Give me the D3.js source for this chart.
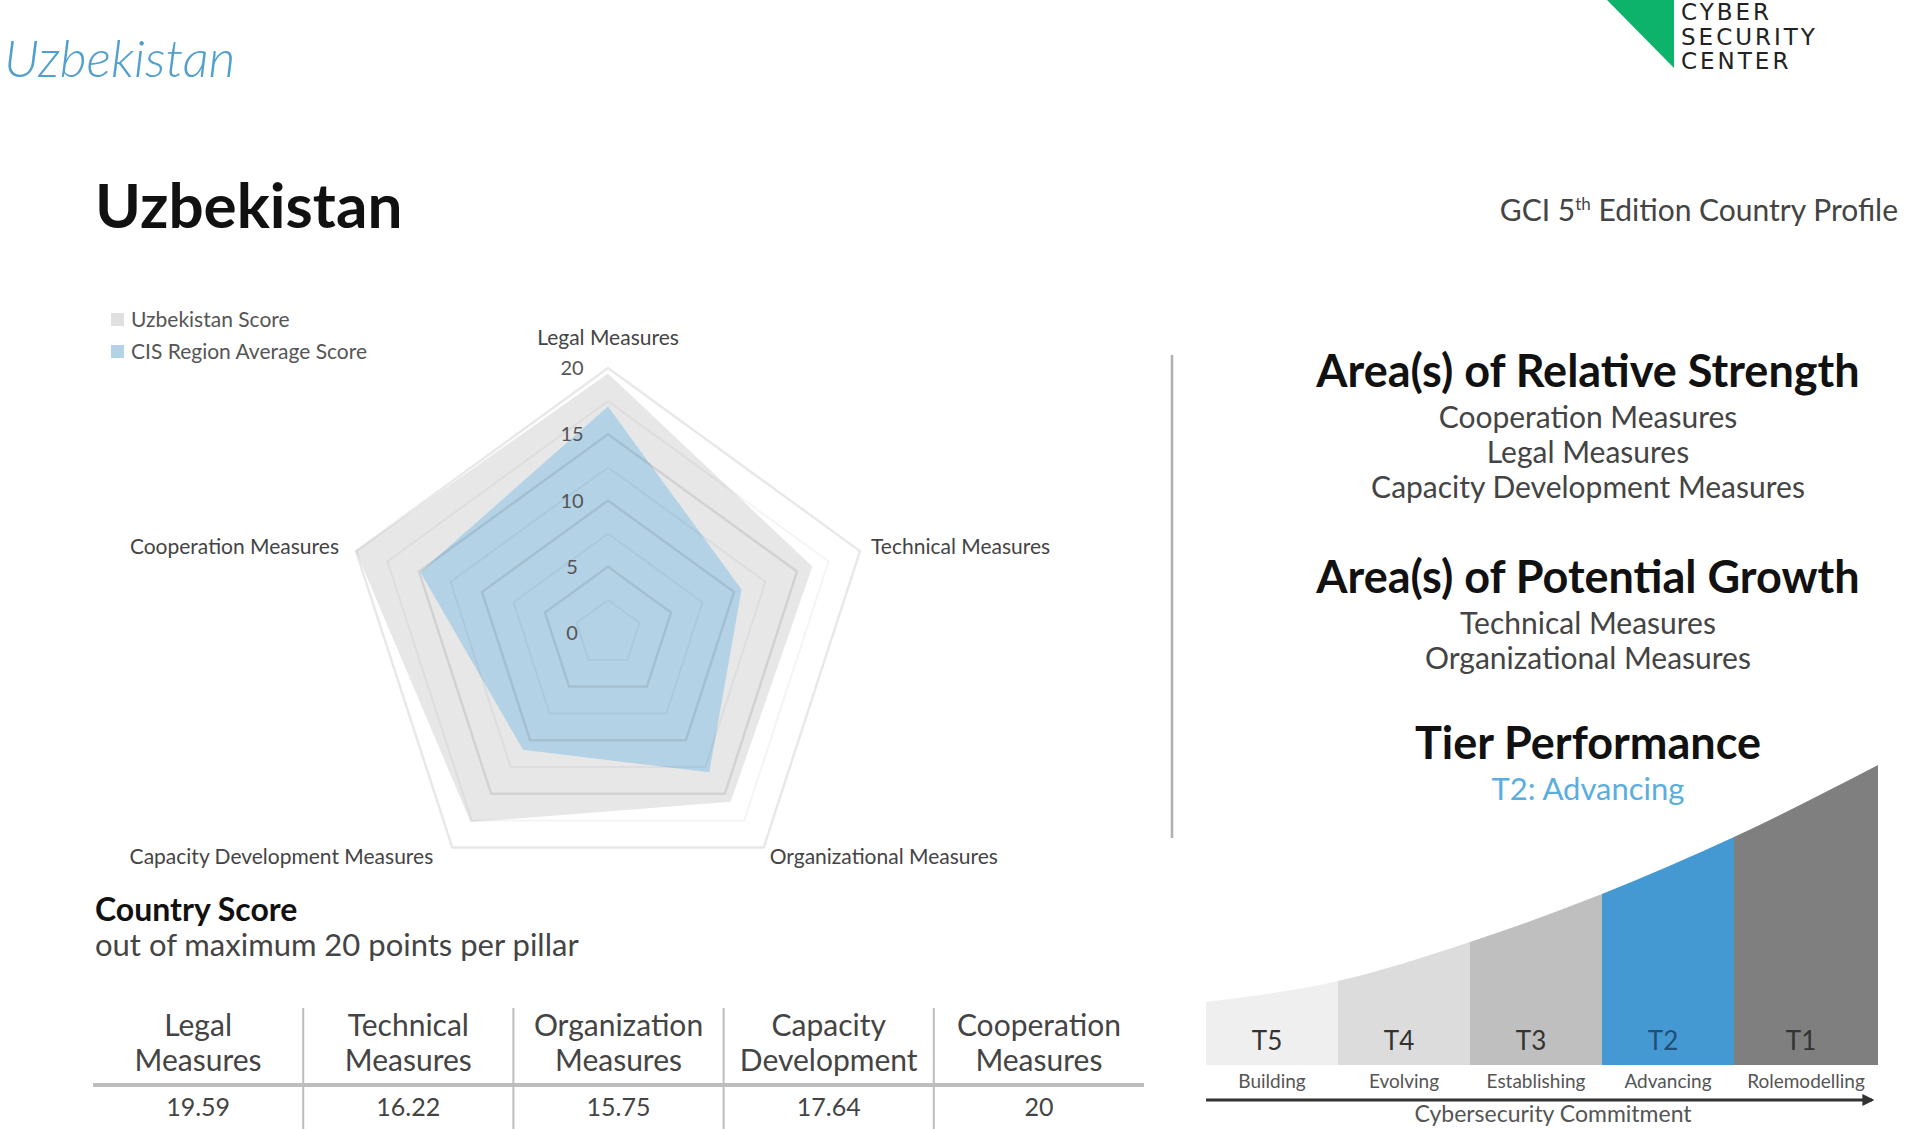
<!DOCTYPE html>
<html>
<head>
<meta charset="utf-8">
<script src="https://cdn.jsdelivr.net/npm/d3@7"></script>
<style>
  body { margin: 0; background: #fff; }
  svg { display: block; font-family: Lato, "Open Sans", sans-serif; }
</style>
</head>
<body>
<svg id="chart" width="1920" height="1129"></svg>
<script>
// pillars of the radar, clockwise from top
const pillars = ['Legal Measures', 'Technical Measures', 'Organizational Measures',
    'Capacity Development Measures', 'Cooperation Measures']
const countryScores = [19.59, 16.22, 15.75, 17.64, 20]
const regionScores = [17.1, 10.6, 13.0, 10.9, 14.9]
const scoreTicks = [0, 5, 10, 15, 20]
const ringLevels = [2.5, 5, 7.5, 10, 12.5, 15, 17.5, 20]

const tableHeads = [['Legal', 'Measures'], ['Technical', 'Measures'], ['Organization', 'Measures'],
    ['Capacity', 'Development'], ['Cooperation', 'Measures']]

const strengths = ['Cooperation Measures', 'Legal Measures', 'Capacity Development Measures']
const growthAreas = ['Technical Measures', 'Organizational Measures']

const tiers = ['T5', 'T4', 'T3', 'T2', 'T1']
const tierNames = ['Building', 'Evolving', 'Establishing', 'Advancing', 'Rolemodelling']
const tierColors = ['#efefef', '#dcdcdc', '#bfbfbf', '#4499d3', '#7f7f7f']
// relative height of the commitment curve at each column edge
const tierCurve = [21, 28, 41, 57, 76, 100]
const currentTier = 'T2'

const svg = d3.select('#chart')

// ---- header ----
svg.append('text').attr('x', 4).attr('y', 77)
    .style('font-size', '52px').style('font-style', 'italic').style('font-weight', 300)
    .attr('fill', '#4f9fcf').text('Uzbekistan')

svg.append('text').attr('x', 95).attr('y', 228)
    .style('font-size', '62px').style('font-weight', 700)
    .attr('fill', '#111').text('Uzbekistan')

const gci = svg.append('text').attr('x', 1898).attr('y', 221).attr('text-anchor', 'end')
    .style('font-size', '30px').attr('fill', '#444')
gci.append('tspan').text('GCI 5')
gci.append('tspan').attr('dy', -11).style('font-size', '17px').text('th')
gci.append('tspan').attr('dy', 11).text(' Edition Country Profile')

// logo
svg.append('path').attr('d', 'M1607,0L1674,0L1674,68Z').attr('fill', '#0db36a')
svg.append('g').selectAll('text').data(['CYBER', 'SECURITY', 'CENTER']).join('text')
    .attr('x', 1681).attr('y', (d, i) => 20 + i * 24.5)
    .style('font-family', '"DejaVu Sans", sans-serif').style('font-size', '23px')
    .style('letter-spacing', '3px').attr('fill', '#222').text(d => d)

// ---- radar ----
const cx = 608, cy = 633
const r = d3.scaleLinear().domain([0, 20]).range([0, 265])
const angle = i => i * 2 * Math.PI / pillars.length

const radial = d3.lineRadial()
    .angle((d, i) => angle(i))
    .radius(d => r(d))
    .curve(d3.curveLinearClosed)

const radar = svg.append('g').attr('transform', `translate(${cx},${cy})`)

radar.append('path').attr('d', radial(countryScores)).attr('fill', '#e7e7e7')
radar.append('path').attr('d', radial(regionScores)).attr('fill', '#b4d2e5')

radar.selectAll('.ring').data(ringLevels).join('path')
    .attr('class', 'ring')
    .attr('d', v => radial(pillars.map(() => v)))
    .attr('fill', 'none')
    .attr('stroke', v => v % 5 === 0 ? 'rgba(0,0,0,0.09)' : 'rgba(0,0,0,0.045)')
    .attr('stroke-width', v => v % 5 === 0 ? 2.5 : 2)

radar.selectAll('.tick').data(scoreTicks).join('text')
    .attr('class', 'tick')
    .attr('x', -36).attr('y', v => -r(v)).attr('dy', '0.35em')
    .attr('text-anchor', 'middle').style('font-size', '20px').attr('fill', '#555')
    .text(v => v)

const labelPos = [
    { dx: 0, dy: -30, anchor: 'middle' },
    { dx: 11, dy: -4, anchor: 'start' },
    { dx: 6, dy: 9, anchor: 'start' },
    { dx: -19, dy: 9, anchor: 'end' },
    { dx: -17, dy: -4, anchor: 'end' }
]
radar.selectAll('.axis-label').data(pillars).join('text')
    .attr('class', 'axis-label')
    .attr('x', (d, i) => r(20) * Math.sin(angle(i)) + labelPos[i].dx)
    .attr('y', (d, i) => -r(20) * Math.cos(angle(i)) + labelPos[i].dy)
    .attr('dy', '0.35em').attr('text-anchor', (d, i) => labelPos[i].anchor)
    .style('font-size', '21px').attr('fill', '#444')
    .text(d => d)

// legend
const legend = svg.append('g').attr('transform', 'translate(111,313)')
const legendItems = [['Uzbekistan Score', '#e0e0e0'], ['CIS Region Average Score', '#b4d2e5']]
legend.selectAll('rect').data(legendItems).join('rect')
    .attr('x', 0).attr('y', (d, i) => i * 32).attr('width', 13).attr('height', 13)
    .attr('fill', d => d[1])
legend.selectAll('text').data(legendItems).join('text')
    .attr('x', 20).attr('y', (d, i) => i * 32 + 7).attr('dy', '0.35em')
    .style('font-size', '21px').attr('fill', '#555')
    .text(d => d[0])

// ---- country score table ----
svg.append('text').attr('x', 95).attr('y', 921)
    .style('font-size', '32px').style('font-weight', 700).attr('fill', '#111')
    .text('Country Score')
svg.append('text').attr('x', 95).attr('y', 956)
    .style('font-size', '31px').attr('fill', '#444')
    .text('out of maximum 20 points per pillar')

const col = d3.scaleBand().domain(d3.range(pillars.length)).range([93, 1144])
const fmt = v => Number.isInteger(v) ? String(v) : v.toFixed(2)

svg.append('line').attr('x1', 93).attr('x2', 1144).attr('y1', 1085).attr('y2', 1085)
    .attr('stroke', '#bdbdbd').attr('stroke-width', 4)
svg.selectAll('.col-sep').data(d3.range(1, pillars.length)).join('line')
    .attr('class', 'col-sep')
    .attr('x1', i => col(i)).attr('x2', i => col(i))
    .attr('y1', 1008).attr('y2', 1129)
    .attr('stroke', '#bdbdbd').attr('stroke-width', 2)

const heads = svg.selectAll('.head').data(tableHeads).join('text')
    .attr('class', 'head')
    .attr('text-anchor', 'middle').style('font-size', '30px').attr('fill', '#444')
heads.selectAll('tspan').data((d, i) => d.map(t => ({ t, i }))).join('tspan')
    .attr('x', d => col(d.i) + col.bandwidth() / 2)
    .attr('y', (d, j) => 1036 + j * 35)
    .text(d => d.t)

svg.selectAll('.score').data(countryScores).join('text')
    .attr('class', 'score')
    .attr('x', (d, i) => col(i) + col.bandwidth() / 2).attr('y', 1116)
    .attr('text-anchor', 'middle').style('font-size', '25px').attr('fill', '#444')
    .text(fmt)

// ---- separator ----
svg.append('line').attr('x1', 1172).attr('x2', 1172).attr('y1', 355).attr('y2', 838)
    .attr('stroke', '#b0b0b0').attr('stroke-width', 2.5)

// ---- right panel ----
const px = 1588
function block (title, items, y) {
    svg.append('text').attr('x', px).attr('y', y).attr('text-anchor', 'middle')
        .style('font-size', '45px').style('font-weight', 700).attr('fill', '#111')
        .text(title)
    svg.selectAll(null).data(items).join('text')
        .attr('x', px).attr('y', (d, i) => y + 41 + i * 35).attr('text-anchor', 'middle')
        .style('font-size', '30px').attr('fill', '#444')
        .text(d => d)
}
block('Area(s) of Relative Strength', strengths, 387)
block('Area(s) of Potential Growth', growthAreas, 593)

svg.append('text').attr('x', px).attr('y', 759).attr('text-anchor', 'middle')
    .style('font-size', '45px').style('font-weight', 700).attr('fill', '#111')
    .text('Tier Performance')
svg.append('text').attr('x', px).attr('y', 800).attr('text-anchor', 'middle')
    .style('font-size', '31px').attr('fill', '#5aaede')
    .text(currentTier + ': ' + tierNames[tiers.indexOf(currentTier)])

// tier staircase
const tx = d3.scaleBand().domain(tiers).range([1206, 1866])
const tEnd = 1878
const ty = d3.scaleLinear().domain([0, 100]).range([1065, 765])
const edges = tierCurve.map((v, i) => [i < tiers.length ? tx(tiers[i]) : tEnd, v])
const tierArea = d3.area().x(d => d[0]).y0(ty(0)).y1(d => ty(d[1])).curve(d3.curveMonotoneX)
const colW = t => t === tiers[tiers.length - 1] ? tEnd - tx(t) : tx.bandwidth()

const defs = svg.append('defs')
tiers.forEach(t => {
    defs.append('clipPath').attr('id', 'clip-' + t)
        .append('rect').attr('x', tx(t)).attr('y', 700)
        .attr('width', colW(t)).attr('height', 400)
})
svg.selectAll('.tier').data(tiers).join('path')
    .attr('class', 'tier')
    .attr('d', tierArea(edges))
    .attr('clip-path', t => `url(#clip-${t})`)
    .attr('fill', (t, i) => tierColors[i])

svg.selectAll('.tier-label').data(tiers).join('text')
    .attr('class', 'tier-label')
    .attr('x', t => tx(t) + colW(t) / 2 - 5).attr('y', 1041).attr('dy', '0.35em')
    .attr('text-anchor', 'middle').style('font-size', '26px')
    .attr('fill', t => t === currentTier ? '#1f4e79' : '#333')
    .text(t => t)

svg.selectAll('.tier-name').data(tierNames).join('text')
    .attr('class', 'tier-name')
    .attr('x', (d, i) => tx(tiers[i]) + colW(tiers[i]) / 2).attr('y', 1081).attr('dy', '0.35em')
    .attr('text-anchor', 'middle').style('font-size', '19px').attr('fill', '#555')
    .text(d => d)

defs.append('marker').attr('id', 'arrow').attr('viewBox', '0 0 10 10')
    .attr('refX', 8).attr('refY', 5).attr('markerWidth', 4).attr('markerHeight', 4)
    .attr('orient', 'auto')
    .append('path').attr('d', 'M0,0L10,5L0,10Z').attr('fill', '#333')
svg.append('line').attr('x1', 1206).attr('x2', 1872).attr('y1', 1100).attr('y2', 1100)
    .attr('stroke', '#333').attr('stroke-width', 3).attr('marker-end', 'url(#arrow)')

svg.append('text').attr('x', 1553).attr('y', 1122).attr('text-anchor', 'middle')
    .style('font-size', '23px').attr('fill', '#555')
    .text('Cybersecurity Commitment')
</script>
</body>
</html>
